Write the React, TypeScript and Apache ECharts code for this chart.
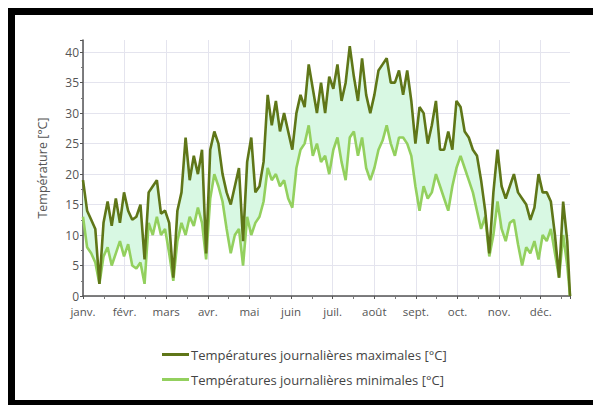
import React, { useEffect, useRef } from "react";
import * as echarts from "echarts";

const monthLabels = ["janv.", "févr.", "mars", "avr.", "mai", "juin", "juil.", "août", "sept.", "oct.", "nov.", "déc."];
const yTicks = [0, 5, 10, 15, 20, 25, 30, 35, 40];
const seriesNames = ["Températures journalières maximales [°C]", "Températures journalières minimales [°C]"];

// one sample every 3 days, the last one on day 356
const sampleStep = 3;
const lastDay = 356;

const maxTemps = [
  19, 14, 12.5, 11, 2, 12, 15.5, 11.5, 16, 12, 17,
  14, 12.5, 13, 15, 6, 17, 18, 19, 13.5,
  14, 12, 3, 14, 17, 26, 19, 23, 20, 24,
  7, 24, 27, 25, 20, 17, 15, 18, 21, 9,
  22, 26, 17, 18, 22, 33, 28, 32, 27, 30, 27,
  24, 30, 33, 31, 38, 34, 30, 35, 30, 36,
  34, 38, 32, 35, 41, 36, 32, 39, 33, 30,
  33, 37, 38, 39, 35, 35, 37, 33, 37, 32,
  25, 31, 30, 25, 28, 32, 24, 24, 27, 24,
  32, 31, 27, 26, 24, 23, 19, 14, 7, 17,
  24, 18, 16, 18, 20, 17, 16, 15, 12.5, 14.5,
  20, 17, 17, 15.5, 10, 3, 15.5, 9, 0,
];

const minTemps = [
  13, 8, 7, 5.5, 2, 6.5, 8, 5, 7, 9, 6.5,
  8.5, 5, 4.5, 5.5, 2, 12, 10, 13, 10,
  11, 7, 2.5, 9, 12, 10, 13, 11.5, 14.5, 12,
  6, 16, 20, 18, 15.5, 11, 7, 10, 11, 5,
  13, 10, 12, 13, 15.5, 21, 19, 20, 18, 19, 16,
  14.5, 21, 24, 25, 28, 23, 25, 22, 23, 20,
  24, 26, 22, 19, 26, 27, 23, 26, 21, 19,
  21, 24, 25.5, 28, 25, 23, 26, 26, 25, 23,
  18, 14, 18, 16, 17, 20, 18, 16, 14, 18,
  21, 23, 21, 19, 17, 14, 11, 13, 6.5, 10,
  15.5, 11, 9, 12, 12.5, 8.5, 5, 8, 7, 9,
  6, 10, 9, 11, 7, 3, 10, 5, 0,
];

const colorMax = "#5f7618";
const colorMin = "#93d05e";
const colorBand = "#d8f8e3";

export default function App() {
  const ref = useRef<HTMLDivElement>(null);

  useEffect(() => {
    document.body.style.margin = "0";
    if (!ref.current) return;
    const chart = echarts.init(ref.current, null, { renderer: "svg" });
    const dayOf = (i: number) => Math.min(i * sampleStep, lastDay);
    const maxData = maxTemps.map((v, i) => [dayOf(i), v]);
    const minData = minTemps.map((v, i) => [dayOf(i), v]);
    const monthLen = 365 / 12;

    chart.setOption({
      animation: false,
      backgroundColor: "#ffffff",
      textStyle: { fontFamily: "Open Sans, Noto Sans, sans-serif" },
      graphic: [
        {
          type: "rect",
          shape: { x: 11.5, y: 11.5, width: 620, height: 392 },
          style: { fill: "none", stroke: "#000", lineWidth: 7 },
          silent: true,
        },
      ],
      grid: { left: 83, right: 23, top: 40, bottom: 109 },
      legend: {
        orient: "vertical",
        left: 157,
        top: 343,
        icon: "rect",
        itemWidth: 27,
        itemHeight: 3,
        itemGap: 12,
        data: seriesNames,
        textStyle: { color: "#444", fontSize: 13, fontFamily: "Open Sans, sans-serif", padding: [0, 0, 0, -3] },
      },
      xAxis: {
        type: "value",
        min: 0,
        max: lastDay,
        interval: monthLen,
        axisLine: { show: true, lineStyle: { color: "#555", width: 1.5 } },
        axisTick: { show: true, length: 3, lineStyle: { color: "#555" } },
        minorTick: { show: true, splitNumber: 2, length: 3, lineStyle: { color: "#777" } },
        splitLine: { show: true, showMaxLine: false, lineStyle: { color: "#e4e4ee" } },
        axisLabel: {
          color: "#555",
          fontSize: 11.5,
          margin: 9,
          showMaxLabel: false,
          formatter: (v: number) => monthLabels[Math.round(v / monthLen)] ?? "",
        },
      },
      yAxis: {
        type: "value",
        min: yTicks[0],
        max: 42,
        interval: 5,
        name: "Température [°C]",
        nameLocation: "middle",
        nameGap: 34,
        nameTextStyle: { color: "#555", fontSize: 12.5 },
        axisLine: { show: true, lineStyle: { color: "#555", width: 1.5 } },
        axisTick: { show: true, length: 3, lineStyle: { color: "#555" } },
        minorTick: { show: true, splitNumber: 2, length: 2, lineStyle: { color: "#777" } },
        splitLine: { show: true, showMaxLine: false, lineStyle: { color: "#e4e4ee" } },
        axisLabel: {
          color: "#555",
          fontSize: 12,
          margin: 4,
          showMaxLabel: false,
          formatter: (v: number) => (yTicks.includes(v) ? String(v) : ""),
        },
      },
      series: [
        {
          name: "band",
          type: "custom",
          data: [[0, 0]],
          silent: true,
          z: 1,
          renderItem: (params: any, api: any) => {
            const pts: number[][] = [];
            maxData.forEach((p) => pts.push(api.coord(p)));
            for (let i = minData.length - 1; i >= 0; i--) pts.push(api.coord(minData[i]));
            return {
              type: "polygon",
              shape: { points: pts },
              style: { fill: colorBand, stroke: "none" },
            };
          },
        },
        {
          name: seriesNames[1],
          type: "line",
          data: minData,
          symbol: "none",
          color: colorMin,
          lineStyle: { color: colorMin, width: 2.6 },
          z: 3,
        },
        {
          name: seriesNames[0],
          type: "line",
          data: maxData,
          symbol: "none",
          color: colorMax,
          lineStyle: { color: colorMax, width: 2.6 },
          z: 4,
        },
      ],
    });
    return () => chart.dispose();
  }, []);

  return <div ref={ref} style={{ width: 593, height: 405 }} />;
}
